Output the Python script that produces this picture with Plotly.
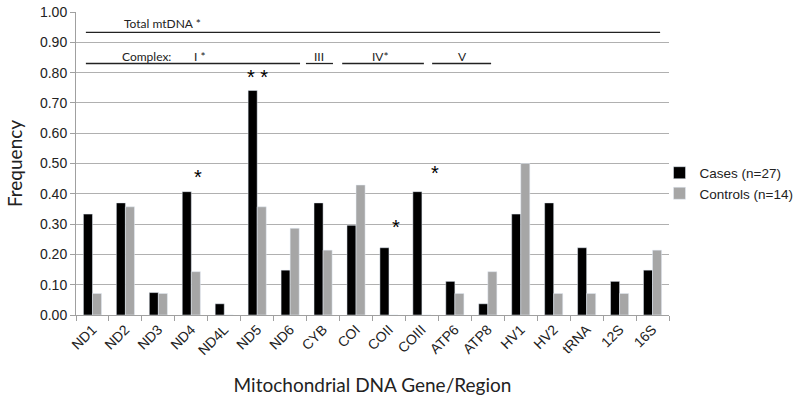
import plotly.graph_objects as go

categories = ["ND1", "ND2", "ND3", "ND4", "ND4L", "ND5", "ND6", "CYB", "COI", "COII",
              "COIII", "ATP6", "ATP8", "HV1", "HV2", "tRNA", "12S", "16S"]
cases = [0.333, 0.370, 0.074, 0.407, 0.037, 0.741, 0.148, 0.370, 0.296, 0.222,
         0.407, 0.111, 0.037, 0.333, 0.370, 0.222, 0.111, 0.148]
controls = [0.071, 0.357, 0.071, 0.143, 0.0, 0.357, 0.286, 0.214, 0.429, 0.0,
            0.0, 0.071, 0.143, 0.500, 0.071, 0.071, 0.071, 0.214]
y_ticks = [i / 10 for i in range(11)]

fig = go.Figure()
fig.add_trace(go.Bar(x=categories, y=cases, name="Cases (n=27)", marker_color="#000000"))
fig.add_trace(go.Bar(x=categories, y=controls, name="Controls (n=14)", marker_color="#a6a6a6"))

ann_font = dict(family="Lato, Open Sans, sans-serif", size=12, color="#222")
line_style = dict(color="#222", width=1.3)

# bracket lines (x in category index units)
brackets = [(-0.2, 17.23, 0.933), (-0.2, 6.30, 0.83), (6.48, 7.30, 0.83),
            (7.58, 10.06, 0.83), (10.31, 12.10, 0.83)]
for x0, x1, yy in brackets:
    fig.add_shape(type="line", xref="x", yref="y", x0=x0, x1=x1, y0=yy, y1=yy, line=line_style)

texts = [("Total mtDNA *", 2.14, 0.962), ("Complex:", 1.63, 0.853), ("I *", 3.26, 0.853),
         ("III", 6.88, 0.853), ("IV*", 8.73, 0.853), ("V", 11.22, 0.853)]
for t, xx, yy in texts:
    fig.add_annotation(text=t, x=xx, y=yy, xref="x", yref="y", showarrow=False, font=ann_font)

stars = [("*", 3.2, 0.455), ("* *", 5.0, 0.785), ("*", 9.2, 0.29), ("*", 10.4, 0.468)]
for t, xx, yy in stars:
    fig.add_annotation(text=t, x=xx, y=yy, xref="x", yref="y", showarrow=False,
                       font=dict(family="Liberation Sans, Arial", size=20, color="#000"))

fig.update_layout(
    width=800, height=413,
    margin=dict(l=76, r=131, t=12, b=98, autoexpand=False),
    paper_bgcolor="white", plot_bgcolor="white",
    barmode="group", bargap=0.45, bargroupgap=0,
    font=dict(family="Liberation Sans, Arial", size=13, color="#222"),
    legend=dict(x=0.984, y=0.52, xanchor="left", yanchor="top",
                font=dict(family="Liberation Sans, Arial", size=13.5, color="#222"),
                bgcolor="rgba(0,0,0,0)", itemwidth=30, tracegroupgap=2),
    xaxis=dict(
        title=dict(text="Mitochondrial DNA Gene/Region",
                   font=dict(family="Lato, Open Sans, sans-serif", size=19, color="#222"),
                   standoff=21),
        automargin=False,
        tickangle=-45, showline=True, linecolor="#a0a0a0", linewidth=1,
        ticks="outside", tickson="boundaries", ticklen=5, tickcolor="#a0a0a0",
        tickfont=dict(family="Liberation Sans, Arial", size=14, color="#222"),
        ticklabeloverflow="allow",
        showgrid=False, range=[-0.5, 17.5],
    ),
    yaxis=dict(
        title=dict(text="Frequency",
                   font=dict(family="Lato, Open Sans, sans-serif", size=19, color="#222"),
                   standoff=12),
        automargin=False,
        range=[0, 1.0], tickvals=y_ticks, tickformat=".2f",
        showline=True, linecolor="#a0a0a0", linewidth=1,
        ticks="outside", ticklen=5, tickcolor="#a0a0a0",
        showgrid=True, gridcolor="#b0b0b0", gridwidth=1,
        tickfont=dict(family="Liberation Sans, Arial", size=14, color="#222"),
        ticklabeloverflow="allow",
        zeroline=False,
    ),
)

fig.write_html("out.html", config={"displayModeBar": False},
               post_script="document.body.style.margin='0';")
